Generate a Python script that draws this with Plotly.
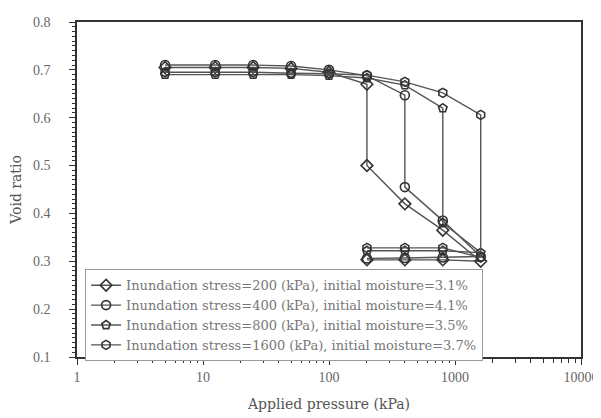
import plotly.graph_objects as go

# Data
s1_pressure = [5, 12.5, 25, 50, 100, 200, 200, 400, 800, 1600, 800, 400, 200]
s1_void = [0.705, 0.705, 0.705, 0.703, 0.695, 0.670, 0.500, 0.420, 0.365, 0.300, 0.303, 0.303, 0.303]

s2_pressure = [5, 12.5, 25, 50, 100, 200, 400, 400, 800, 1600, 800, 400, 200]
s2_void = [0.710, 0.710, 0.710, 0.708, 0.700, 0.688, 0.647, 0.455, 0.385, 0.310, 0.308, 0.307, 0.306]

s3_pressure = [5, 12.5, 25, 50, 100, 200, 400, 800, 800, 1600, 800, 400, 200]
s3_void = [0.690, 0.690, 0.690, 0.690, 0.688, 0.683, 0.668, 0.620, 0.380, 0.318, 0.322, 0.322, 0.322]

s4_pressure = [5, 12.5, 25, 50, 100, 200, 400, 800, 1600, 1600, 800, 400, 200]
s4_void = [0.695, 0.695, 0.695, 0.693, 0.692, 0.689, 0.675, 0.652, 0.606, 0.308, 0.328, 0.328, 0.328]

series_names = [
    "Inundation stress=200 (kPa), initial moisture=3.1%",
    "Inundation stress=400 (kPa), initial moisture=4.1%",
    "Inundation stress=800 (kPa), initial moisture=3.5%",
    "Inundation stress=1600 (kPa), initial moisture=3.7%",
]
y_ticks = [0.1, 0.2, 0.3, 0.4, 0.5, 0.6, 0.7, 0.8]
x_ticks = [1, 10, 100, 1000, 10000]
x_minor = [m * d for d in (1, 10, 100, 1000) for m in range(2, 10)]
y_minor = [round(0.1 + 0.01 * i, 2) for i in range(71)]

symbols = ["diamond-open", "circle-open", "pentagon-open", "hexagon-open"]
data = [(s1_pressure, s1_void), (s2_pressure, s2_void),
        (s3_pressure, s3_void), (s4_pressure, s4_void)]

fig = go.Figure()
for (xs, ys), name, sym in zip(data, series_names, symbols):
    fig.add_trace(go.Scatter(
        x=xs, y=ys, name=name, mode="lines+markers",
        line=dict(color="#555555", width=1.4),
        marker=dict(symbol=sym, size=9, color="#333333",
                    line=dict(color="#333333", width=1.6)),
    ))

serif = "DejaVu Serif, Liberation Serif, serif"
tick_font = "Liberation Serif, DejaVu Serif, serif"
fig.update_layout(
    width=601, height=418,
    margin=dict(l=69, r=28, t=14, b=69, autoexpand=False),
    paper_bgcolor="white", plot_bgcolor="white",
    font=dict(family=serif, size=12, color="#555555"),
    showlegend=True,
    legend=dict(
        x=0.016, y=0.262, xanchor="left", yanchor="top",
        bgcolor="white", bordercolor="#999999", borderwidth=1,
        font=dict(family=serif, size=13, color="#777777"),
        tracegroupgap=0, itemwidth=30,
    ),
    xaxis=dict(
        type="log", range=[0, 4], automargin=False,
        tickvals=x_ticks, ticktext=[str(v) for v in x_ticks],
        ticks="outside", ticklen=6, tickcolor="#333333", tickwidth=1.2,
        showline=True, linecolor="#333333", linewidth=1.5, mirror=True,
        showgrid=False, zeroline=False,
        minor=dict(ticks="outside", ticklen=4, tickvals=x_minor,
                   tickcolor="#333333", showgrid=False),
        title=dict(text="Applied pressure (kPa)",
                   font=dict(family=serif, size=14, color="#555555"), standoff=16),
        tickfont=dict(family=tick_font, size=14, color="#666666"),
    ),
    yaxis=dict(
        range=[0.1, 0.8], automargin=False,
        tickvals=y_ticks, ticktext=["%.1f" % v for v in y_ticks],
        ticks="outside", ticklen=6, tickcolor="#333333", tickwidth=1.2,
        ticklabelstandoff=16,
        showline=True, linecolor="#333333", linewidth=1.5, mirror=True,
        showgrid=False, zeroline=False,
        minor=dict(ticks="outside", ticklen=3, tickvals=y_minor,
                   tickcolor="#333333", showgrid=False),
        title=dict(text="Void ratio",
                   font=dict(family=serif, size=14, color="#555555"), standoff=8),
        tickfont=dict(family=tick_font, size=14, color="#666666"),
    ),
)

fig.write_html("out.html")
